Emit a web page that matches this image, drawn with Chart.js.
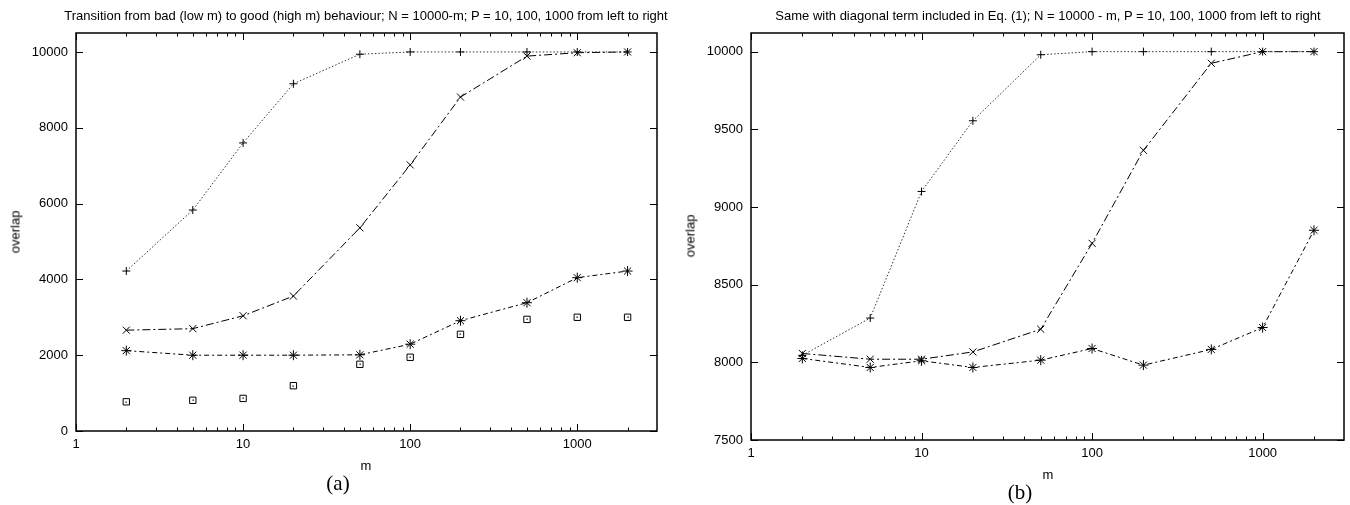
<!DOCTYPE html>
<html>
<head>
<meta charset="utf-8">
<script src="https://cdn.jsdelivr.net/npm/chart.js@4/dist/chart.umd.min.js"></script>
<style>
  html, body { margin:0; padding:0; background:#fff; }
  #wrap { position:relative; width:1350px; height:505px; overflow:hidden; }
  canvas { position:absolute; top:0; }
  .t { position:absolute; font-family:"Liberation Sans", Arial, sans-serif; font-size:13px; color:#000; white-space:nowrap; transform:translate(-50%,-50%); }
  .rot { transform:translate(-50%,-50%) rotate(-90deg); }
  .cap { position:absolute; font-family:"Liberation Serif", "DejaVu Serif", serif; font-size:21px; color:#000; white-space:nowrap; transform:translate(-50%,-50%); }
</style>
</head>
<body>
<div id="wrap">
  <canvas id="ca" width="675" height="505" style="left:0"></canvas>
  <canvas id="cb" width="675" height="505" style="left:675px"></canvas>
  <div class="t" style="left:366px;top:15px">Transition from bad (low m) to good (high m) behaviour; N = 10000-m; P = 10, 100, 1000 from left to right</div>
  <div class="t" style="left:1048px;top:15px">Same with diagonal term included in Eq. (1); N = 10000 - m, P = 10, 100, 1000 from left to right</div>
  <div class="t rot" style="left:15px;top:232px">overlap</div>
  <div class="t rot" style="left:690px;top:236px">overlap</div>
  <div class="t" style="left:366px;top:465px">m</div>
  <div class="t" style="left:1048px;top:474px">m</div>
  <div class="cap" style="left:338px;top:483px">(a)</div>
  <div class="cap" style="left:1020px;top:492px">(b)</div>
</div>
<script>
// ---- data ----
const mValues = [2, 5, 10, 20, 50, 100, 200, 500, 1000, 2000];

// panel (a)
const a_P10   = [4220, 5830, 7600, 9160, 9940, 10000, 10000, 10000, 10000, 10000];
const a_P100  = [2660, 2700, 3040, 3560, 5360, 7020, 8810, 9890, 9980, 10000];
const a_P1000 = [2120, 2000, 2000, 2000, 2010, 2290, 2910, 3385, 4045, 4220];
const a_boxes = [770, 810, 860, 1195, 1760, 1945, 2550, 2945, 3000, 3000];

// panel (b)
const b_P10   = [8045, 8285, 9100, 9555, 9980, 10000, 10000, 10000, 10000, 10000];
const b_P100  = [8057, 8020, 8020, 8067, 8213, 8766, 9365, 9925, 10000, 10000];
const b_P1000 = [8025, 7967, 8010, 7967, 8014, 8089, 7982, 8083, 8224, 8850];

// ticks
const xMajorTicks = [1, 10, 100, 1000];
const xMinorTicks = [2,3,4,5,6,7,8,9,20,30,40,50,60,70,80,90,200,300,400,500,600,700,800,900,2000];
const yTicksA = [0, 2000, 4000, 6000, 8000, 10000];
const yTicksB = [7500, 8000, 8500, 9000, 9500, 10000];

// ---- gnuplot-like frame with inward ticks ----
const gnuFrame = {
  id: 'gnuFrame',
  afterDraw(chart, args, opts) {
    const {ctx, chartArea: a, scales: {x, y}} = chart;
    ctx.save();
    ctx.strokeStyle = '#000';
    ctx.lineWidth = 1;
    const seg = (x1, y1, x2, y2) => { ctx.beginPath(); ctx.moveTo(x1, y1); ctx.lineTo(x2, y2); ctx.stroke(); };
    xMajorTicks.forEach(v => { const p = Math.round(x.getPixelForValue(v)) + 0.5; seg(p, a.bottom, p, a.bottom - 7); seg(p, a.top, p, a.top + 7); });
    xMinorTicks.forEach(v => { const p = Math.round(x.getPixelForValue(v)) + 0.5; seg(p, a.bottom, p, a.bottom - 3.5); seg(p, a.top, p, a.top + 3.5); });
    opts.yTicks.forEach(v => { const p = Math.round(y.getPixelForValue(v)) + 0.5; seg(a.left, p, a.left + 7, p); seg(a.right, p, a.right - 7, p); });
    // dots inside the boxes
    chart.data.datasets.forEach((ds, i) => {
      if (!ds.centerDot) return;
      chart.getDatasetMeta(i).data.forEach(pt => { ctx.fillStyle = '#000'; ctx.fillRect(Math.round(pt.x) - 0.5, Math.round(pt.y) - 0.5, 1.3, 1.3); });
    });
    ctx.lineWidth = 1.5;
    ctx.strokeRect(a.left, a.top, a.width, a.height);
    ctx.restore();
  }
};

const tickFont = {family: "'Liberation Sans', Arial, sans-serif", size: 13};

function lineDs(data, style, radius, dash, color) {
  return {
    data, borderColor: color || '#000', borderWidth: 1, borderDash: dash,
    pointStyle: style, pointRadius: radius, pointBorderColor: '#000', pointBorderWidth: 1,
    pointBackgroundColor: 'rgba(0,0,0,0)', tension: 0, fill: false, clip: false
  };
}

function makeChart(id, datasets, yMin, yMax, yTicks, pad, xHeight) {
  return new Chart(document.getElementById(id), {
    type: 'line',
    data: { labels: mValues, datasets },
    plugins: [gnuFrame],
    options: {
      responsive: false, animation: false, events: [],
      layout: { padding: pad },
      plugins: { legend: {display: false}, tooltip: {enabled: false}, gnuFrame: { yTicks } },
      scales: {
        x: {
          type: 'logarithmic', min: 1, max: 3000,
          afterBuildTicks: s => { s.ticks = xMajorTicks.map(v => ({value: v})); },
          afterFit: s => { s.height = xHeight; },
          grid: {display: false, drawTicks: false}, border: {display: false},
          ticks: { color: '#000', font: tickFont, padding: 6, maxRotation: 0, autoSkip: false, callback: v => String(v) }
        },
        y: {
          type: 'linear', min: yMin, max: yMax,
          afterBuildTicks: s => { s.ticks = yTicks.map(v => ({value: v})); },
          afterFit: s => { s.width = 76; },
          grid: {display: false, drawTicks: false}, border: {display: false},
          ticks: { color: '#000', font: tickFont, padding: 8, callback: v => String(v) }
        }
      }
    }
  });
}

makeChart('ca', [
  lineDs(a_P10, 'cross', 4, [1.5, 2], '#333'),
  lineDs(a_P100, 'crossRot', 5, [8, 3, 2, 3]),
  lineDs(a_P1000, 'star', 5, [5, 3, 2, 3]),
  Object.assign(lineDs(a_boxes, 'rect', 4.5, []), {showLine: false, centerDot: true})
], 0, 10500, yTicksA, {left: 0, right: 18, top: 33, bottom: 0}, 74);

makeChart('cb', [
  lineDs(b_P10, 'cross', 4, [1.5, 2], '#333'),
  lineDs(b_P100, 'crossRot', 5, [8, 3, 2, 3]),
  lineDs(b_P1000, 'star', 5, [5, 3, 2, 3])
], 7500, 10120, yTicksB, {left: 0, right: 4, top: 33, bottom: 0}, 65);
</script>
</body>
</html>
